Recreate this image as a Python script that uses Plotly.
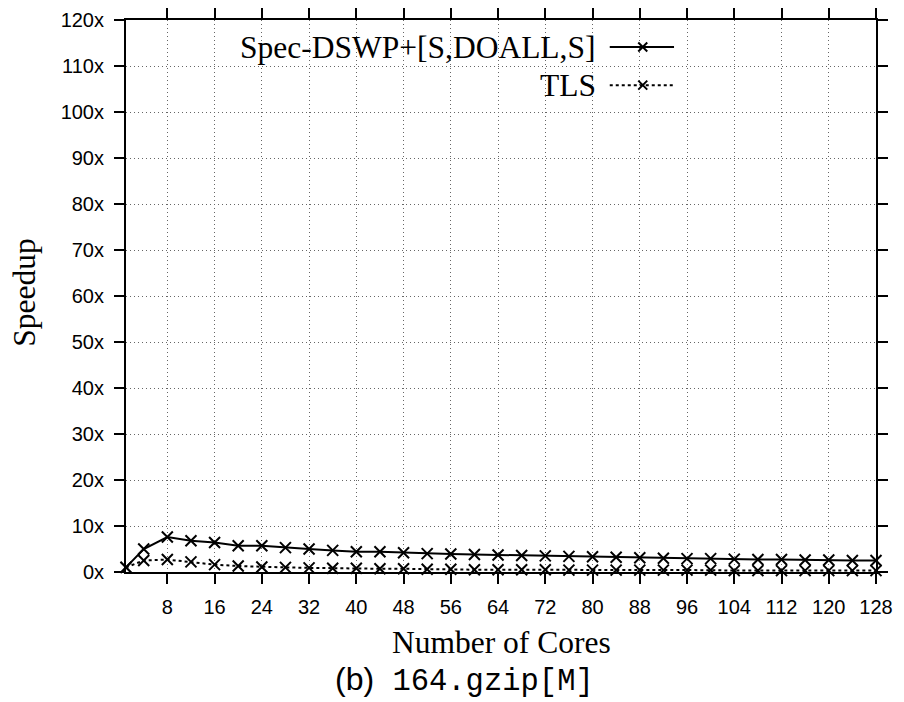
import plotly.graph_objects as go

cores = [1, 4, 8, 12, 16, 20, 24, 28, 32, 36, 40, 44, 48, 52, 56, 60, 64,
         68, 72, 76, 80, 84, 88, 92, 96, 100, 104, 108, 112, 116, 120, 124, 128]
spec_dswp = [1.0, 5.0, 7.6, 6.8, 6.4, 5.7, 5.7, 5.3, 5.0, 4.7, 4.4, 4.4, 4.2, 4.0, 3.9, 3.8, 3.7,
             3.6, 3.5, 3.4, 3.3, 3.2, 3.1, 3.0, 2.9, 2.9, 2.8, 2.7, 2.7, 2.6, 2.6, 2.5, 2.5]
tls = [1.0, 2.5, 2.7, 2.2, 1.6, 1.3, 1.1, 1.0, 0.9, 0.8, 0.8, 0.7, 0.7, 0.6, 0.6, 0.5, 0.5,
       0.5, 0.5, 0.4, 0.4, 0.4, 0.4, 0.4, 0.4, 0.4, 0.3, 0.3, 0.3, 0.3, 0.3, 0.3, 0.3]
series_names = ["Spec-DSWP+[S,DOALL,S]", "TLS"]
x_ticks = list(range(8, 129, 8))
y_ticks = list(range(0, 121, 10))
y_ticktext = [f"{v}x" for v in y_ticks]

SERIF = "Liberation Serif, Times New Roman, serif"
SANS = "Liberation Sans, Arial, sans-serif"
MONO = "Liberation Mono, Courier New, monospace"

fig = go.Figure()
styles = [dict(color="black", width=2, dash="solid"), dict(color="black", width=2, dash="dot")]
marker = dict(symbol="x-thin", size=11, color="black", line=dict(color="black", width=2))

for name, vals, st in zip(series_names, [spec_dswp, tls], styles):
    fig.add_trace(go.Scatter(x=cores, y=vals, mode="lines+markers", name=name,
                             line=st, marker=marker, showlegend=False, cliponaxis=False))

# manual legend (text left of sample, as in reference)
leg_y = [0.951, 0.882]
for name, st, yy in zip(series_names, styles, leg_y):
    fig.add_trace(go.Scatter(x=[0.645, 0.689, 0.7307], y=[yy, yy, yy], xaxis="x2", yaxis="y2",
                             mode="lines", line=st, showlegend=False, hoverinfo="skip"))
    fig.add_trace(go.Scatter(x=[0.689], y=[yy], xaxis="x2", yaxis="y2",
                             mode="markers", marker=dict(symbol="x-thin", size=9, color="black",
                                                         line=dict(color="black", width=2)),
                             showlegend=False, hoverinfo="skip"))
    fig.add_annotation(text=name, xref="paper", yref="paper", x=0.629, y=yy,
                       xanchor="right", yanchor="middle", showarrow=False,
                       font=dict(family=SERIF, size=31.5, color="black"))

axis_common = dict(showline=True, linecolor="black", linewidth=2, mirror="ticks",
                   ticks="outside", ticklen=10, tickwidth=1.5, tickcolor="black",
                   showgrid=True, gridcolor="#666", gridwidth=1, griddash="1px,3px",
                   zeroline=False, automargin=False,
                   tickfont=dict(family=SANS, size=20, color="black"))

fig.update_layout(
    width=904, height=702,
    margin=dict(l=126, r=28, t=20, b=130),
    paper_bgcolor="white", plot_bgcolor="white",
    xaxis=dict(range=[1, 128], tickvals=x_ticks, ticklabelstandoff=6, **axis_common),
    yaxis=dict(range=[0, 120], tickvals=y_ticks, ticktext=y_ticktext, ticklabelstandoff=6, **axis_common),
    xaxis2=dict(range=[0, 1], overlaying="x", visible=False, fixedrange=True),
    yaxis2=dict(range=[0, 1], overlaying="y", visible=False, fixedrange=True),
    showlegend=False,
)

fig.add_annotation(text="Speedup", xref="paper", yref="paper", x=-0.1347, y=0.506,
                   xanchor="center", yanchor="middle", textangle=-90, showarrow=False,
                   font=dict(family=SERIF, size=31.5, color="black"))
fig.add_annotation(text="Number of Cores", xref="paper", yref="paper", x=0.5, y=-0.128,
                   xanchor="center", yanchor="middle", showarrow=False,
                   font=dict(family=SERIF, size=31.5, color="black"))
fig.add_annotation(text=f"<span style='font-family:{SANS};font-size:32px'>(b)</span> 164.gzip[M]",
                   xref="paper", yref="paper", x=0.4507, y=-0.195,
                   xanchor="center", yanchor="middle", showarrow=False,
                   font=dict(family=MONO, size=30.5, color="black"))

fig.write_html("out.html")
